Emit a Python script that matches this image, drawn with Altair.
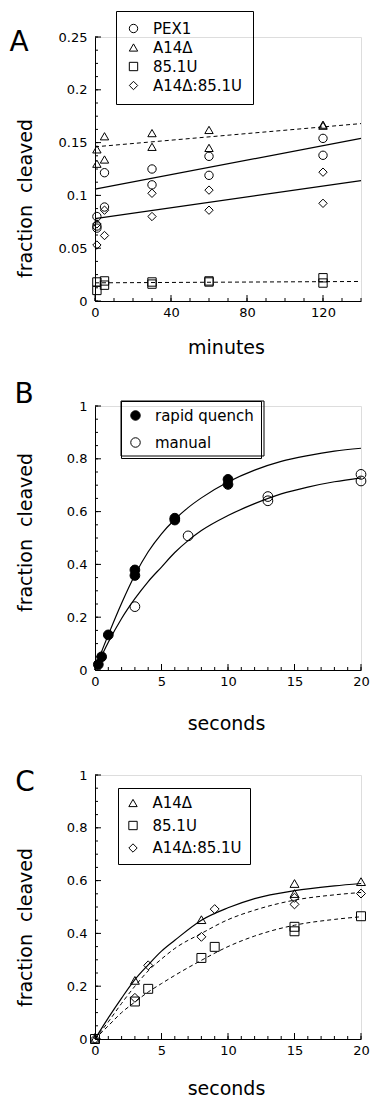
import altair as alt
import pandas as pd

FONT = "DejaVu Sans"
W, H = 266, 264

# ---------------- Panel A data ----------------
a_series = ["PEX1", "A14Δ", "85.1U", "A14Δ:85.1U"]
a_pex1_x = [1, 1, 1, 5, 5, 30, 30, 60, 60, 120, 120]
a_pex1_y = [0.080, 0.071, 0.069, 0.1215, 0.089, 0.125, 0.110, 0.137, 0.119, 0.154, 0.138]
a_a14_x = [1, 1, 5, 5, 30, 30, 60, 60, 120, 120]
a_a14_y = [0.1436, 0.130, 0.156, 0.134, 0.159, 0.146, 0.162, 0.145, 0.166, 0.167]
a_851_x = [1, 1, 5, 5, 30, 30, 60, 60, 120, 120]
a_851_y = [0.018, 0.010, 0.019, 0.015, 0.018, 0.016, 0.018, 0.019, 0.022, 0.017]
a_mix_x = [1, 1, 5, 5, 30, 30, 60, 60, 120, 120]
a_mix_y = [0.053, 0.073, 0.062, 0.086, 0.080, 0.102, 0.086, 0.105, 0.0925, 0.122]
a_fit_x = [0, 140]
a_fit_pex1 = [0.106, 0.154]
a_fit_a14 = [0.146, 0.168]
a_fit_851 = [0.0172, 0.0185]
a_fit_mix = [0.078, 0.114]
a_ymajor = [0, 0.05, 0.1, 0.15, 0.2, 0.25]
a_yminor = [i * 0.0125 for i in range(21)]
a_xmajor = [0, 40, 80, 120]
a_xminor = list(range(0, 141, 10))

# ---------------- Panel B data ----------------
b_series = ["rapid quench", "manual"]
b_rapid_t = [0.25, 0.5, 1, 3, 3, 6, 6, 10, 10]
b_rapid_y = [0.021, 0.05, 0.133, 0.379, 0.358, 0.575, 0.568, 0.722, 0.703]
b_manual_t = [3, 7, 13, 13, 20, 20]
b_manual_y = [0.24, 0.508, 0.657, 0.641, 0.741, 0.716]
b_rapid_curve_t = [0, 0.5, 1, 2, 3, 4, 5, 6, 7, 8, 10, 12, 14, 16, 18, 20]
b_rapid_curve_y = [0, 0.07, 0.133, 0.253, 0.36, 0.448, 0.516, 0.57, 0.615, 0.652,
                   0.712, 0.757, 0.79, 0.812, 0.829, 0.84]
b_manual_curve_t = [0, 1, 2, 3, 4, 5, 6, 7, 8, 10, 12, 14, 16, 18, 20]
b_manual_curve_y = [0, 0.105, 0.195, 0.27, 0.335, 0.39, 0.445, 0.49, 0.528, 0.585,
                    0.63, 0.667, 0.693, 0.713, 0.728]

# ---------------- Panel C data ----------------
c_series = ["A14Δ", "85.1U", "A14Δ:85.1U"]
c_a14_t = [0, 3, 8, 15, 15, 20]
c_a14_y = [0, 0.222, 0.452, 0.589, 0.551, 0.596]
c_851_t = [0, 3, 4, 8, 9, 15, 15, 20]
c_851_y = [0, 0.142, 0.19, 0.307, 0.349, 0.425, 0.408, 0.465]
c_mix_t = [0, 3, 4, 8, 9, 15, 15, 20]
c_mix_y = [0, 0.156, 0.279, 0.387, 0.492, 0.535, 0.51, 0.551]
c_curve_t = [0, 1, 2, 3, 4, 5, 6, 8, 10, 12, 15, 18, 20]
c_curve_a14 = [0, 0.08, 0.155, 0.225, 0.281, 0.333, 0.374, 0.45, 0.497, 0.532, 0.562, 0.58, 0.589]
c_curve_mix = [0, 0.065, 0.135, 0.2, 0.258, 0.303, 0.343, 0.40, 0.452, 0.488, 0.526, 0.546, 0.555]
c_curve_851 = [0, 0.05, 0.1, 0.14, 0.178, 0.21, 0.241, 0.298, 0.35, 0.39, 0.431, 0.453, 0.463]

bc_ymajor = [0, 0.2, 0.4, 0.6, 0.8, 1]
bc_yminor = [i * 0.05 for i in range(21)]
bc_xmajor = [0, 5, 10, 15, 20]
bc_xminor = list(range(0, 21))


def long_df(pairs):
    rows = []
    for name, xs, ys in pairs:
        for xv, yv in zip(xs, ys):
            rows.append({"series": name, "x": xv, "y": yv})
    return pd.DataFrame(rows)


def make_axes(xvals, xtitle, xtitle_y, yvals, ytitle_y):
    xa = alt.Axis(values=xvals, labelExpr="'' + datum.value", ticks=False, grid=False,
                  domainColor="black", domainWidth=1,
                  labelFont=FONT, labelFontSize=13, labelColor="black", labelPadding=5,
                  labelFlush=False,
                  title=xtitle, titleFont=FONT, titleFontSize=19, titleFontWeight="normal",
                  titleColor="black", titleX=W / 2 - 2, titleY=xtitle_y,
                  titleAlign="center", titleBaseline="alphabetic")
    ya = alt.Axis(values=yvals, labelExpr="'' + datum.value", ticks=False, grid=False,
                  domainColor="black", domainWidth=1,
                  labelFont=FONT, labelFontSize=13, labelColor="black", labelPadding=8,
                  labelFlush=False,
                  title="fraction\u00a0\u00a0cleaved", titleFont=FONT, titleFontSize=19,
                  titleFontWeight="normal", titleColor="black",
                  titleX=-70, titleY=ytitle_y, titleAngle=270,
                  titleAlign="center", titleBaseline="middle")
    return xa, ya


def tick_layers(xs, ys, xa, ya, xmaj, xmin, ymaj, ymin):
    layers = []
    for vals, ln in ((ymin, 3), (ymaj, 6)):
        layers.append(
            alt.Chart(pd.DataFrame({"y": vals})).mark_rule(color="black", strokeWidth=1).encode(
                y=alt.Y("y:Q", scale=ys, axis=ya), x=alt.value(0), x2=alt.value(ln)))
    for vals, ln in ((xmin, 3), (xmaj, 6)):
        layers.append(
            alt.Chart(pd.DataFrame({"x": vals})).mark_rule(color="black", strokeWidth=1).encode(
                x=alt.X("x:Q", scale=xs, axis=xa), y=alt.value(H), y2=alt.value(H - ln)))
    return layers


def letter(t, dx, dy):
    return alt.Chart(pd.DataFrame({"t": [t]})).mark_text(
        font=FONT, fontSize=28, align="center", baseline="alphabetic", color="black"
    ).encode(text="t:N", x=alt.value(dx), y=alt.value(dy))


def legend(x, y, pad, rowpad):
    return alt.Legend(title=None, orient="none", legendX=x, legendY=y,
                      strokeColor="black", padding=pad, rowPadding=rowpad,
                      labelFont=FONT, labelFontSize=15, labelColor="black", labelOffset=12,
                      symbolStrokeColor="black", symbolStrokeWidth=1, symbolSize=70)


# ---------------- Panel A ----------------
xsA = alt.Scale(domain=[0, 140], nice=False, zero=False)
ysA = alt.Scale(domain=[0, 0.25], nice=False, zero=False)
xaA, yaA = make_axes(a_xmajor, "minutes", 52, a_ymajor, 161)

ptsA = long_df([(a_series[0], a_pex1_x, a_pex1_y), (a_series[1], a_a14_x, a_a14_y),
                (a_series[2], a_851_x, a_851_y), (a_series[3], a_mix_x, a_mix_y)])
fitA = long_df([(a_series[0], a_fit_x, a_fit_pex1), (a_series[1], a_fit_x, a_fit_a14),
                (a_series[2], a_fit_x, a_fit_851), (a_series[3], a_fit_x, a_fit_mix)])

legA = legend(21, -26, 10, 3)
legA.symbolFillColor = "transparent"

solidA = alt.Chart(fitA).transform_filter(
    alt.FieldOneOfPredicate(field="series", oneOf=[a_series[0], a_series[3]])
).mark_line(color="black", strokeWidth=1.2).encode(
    x=alt.X("x:Q", scale=xsA, axis=xaA), y=alt.Y("y:Q", scale=ysA, axis=yaA), detail="series:N")
dashA = alt.Chart(fitA).transform_filter(
    alt.FieldOneOfPredicate(field="series", oneOf=[a_series[1], a_series[2]])
).mark_line(color="black", strokeWidth=1, strokeDash=[4, 3]).encode(
    x=alt.X("x:Q", scale=xsA, axis=xaA), y=alt.Y("y:Q", scale=ysA, axis=yaA), detail="series:N")
pointsA = alt.Chart(ptsA).mark_point(filled=False, color="black", strokeWidth=1, size=70, opacity=1).encode(
    x=alt.X("x:Q", scale=xsA, axis=xaA), y=alt.Y("y:Q", scale=ysA, axis=yaA),
    shape=alt.Shape("series:N", sort=a_series,
                    scale=alt.Scale(domain=a_series, range=["circle", "triangle-up", "square", "diamond"]),
                    legend=legA))

panelA = alt.layer(
    *tick_layers(xsA, ysA, xaA, yaA, a_xmajor, a_xminor, a_ymajor, a_yminor),
    solidA, dashA, pointsA, letter("A", -76, 14)
).properties(width=W, height=H)

# ---------------- Panel B ----------------
xsB = alt.Scale(domain=[0, 20], nice=False, zero=False)
ysB = alt.Scale(domain=[0, 1], nice=False, zero=False)
xaB, yaB = make_axes(bc_xmajor, "seconds", 59, bc_ymajor, 126)

ptsB = long_df([(b_series[0], b_rapid_t, b_rapid_y), (b_series[1], b_manual_t, b_manual_y)])
curB = long_df([(b_series[0], b_rapid_curve_t, b_rapid_curve_y),
                (b_series[1], b_manual_curve_t, b_manual_curve_y)])

legB = legend(26, -5, 7, 11)
legB.symbolSize = 90

curvesB = alt.Chart(curB).mark_line(color="black", strokeWidth=1.2, interpolate="monotone").encode(
    x=alt.X("x:Q", scale=xsB, axis=xaB), y=alt.Y("y:Q", scale=ysB, axis=yaB), detail="series:N")
pointsB = alt.Chart(ptsB).mark_point(filled=True, strokeWidth=1,
                                     size=95, opacity=1, fillOpacity=1, strokeOpacity=1).encode(
    x=alt.X("x:Q", scale=xsB, axis=xaB), y=alt.Y("y:Q", scale=ysB, axis=yaB),
    shape=alt.Shape("series:N", sort=b_series,
                    scale=alt.Scale(domain=b_series, range=["circle", "circle"]), legend=legB),
    fill=alt.Fill("series:N", sort=b_series,
                  scale=alt.Scale(domain=b_series, range=["black", "transparent"]), legend=legB),
    stroke=alt.Stroke("series:N", sort=b_series,
                      scale=alt.Scale(domain=b_series, range=["black", "black"]), legend=legB))
# frame around the panel B legend
legBoxB = alt.Chart(pd.DataFrame({"k": [0]})).mark_rect(
    fillOpacity=0, stroke="black", strokeWidth=1
).encode(x=alt.value(26), x2=alt.value(169), y=alt.value(-5), y2=alt.value(50))

panelB = alt.layer(
    *tick_layers(xsB, ysB, xaB, yaB, bc_xmajor, bc_xminor, bc_ymajor, bc_yminor),
    curvesB, pointsB, legBoxB, letter("B", -71, -3)
).properties(width=W, height=H)

# ---------------- Panel C ----------------
xsC = alt.Scale(domain=[0, 20], nice=False, zero=False)
ysC = alt.Scale(domain=[0, 1], nice=False, zero=False)
xaC, yaC = make_axes(bc_xmajor, "seconds", 55, bc_ymajor, 152)

ptsC = long_df([(c_series[0], c_a14_t, c_a14_y), (c_series[1], c_851_t, c_851_y),
                (c_series[2], c_mix_t, c_mix_y)])
curC = long_df([(c_series[0], c_curve_t, c_curve_a14), (c_series[1], c_curve_t, c_curve_851),
                (c_series[2], c_curve_t, c_curve_mix)])

legC = legend(23, 13, 7.5, 6.5)
legC.symbolFillColor = "transparent"

solidC = alt.Chart(curC).transform_filter(
    alt.FieldEqualPredicate(field="series", equal=c_series[0])
).mark_line(color="black", strokeWidth=1.2, interpolate="monotone").encode(
    x=alt.X("x:Q", scale=xsC, axis=xaC), y=alt.Y("y:Q", scale=ysC, axis=yaC), detail="series:N")
dashC = alt.Chart(curC).transform_filter(
    alt.FieldOneOfPredicate(field="series", oneOf=[c_series[1], c_series[2]])
).mark_line(color="black", strokeWidth=1, strokeDash=[4, 3], interpolate="monotone").encode(
    x=alt.X("x:Q", scale=xsC, axis=xaC), y=alt.Y("y:Q", scale=ysC, axis=yaC), detail="series:N")
pointsC = alt.Chart(ptsC).mark_point(filled=False, color="black", strokeWidth=1, size=80, opacity=1).encode(
    x=alt.X("x:Q", scale=xsC, axis=xaC), y=alt.Y("y:Q", scale=ysC, axis=yaC),
    shape=alt.Shape("series:N", sort=c_series,
                    scale=alt.Scale(domain=c_series, range=["triangle-up", "square", "diamond"]),
                    legend=legC))

panelC = alt.layer(
    *tick_layers(xsC, ysC, xaC, yaC, bc_xmajor, bc_xminor, bc_ymajor, bc_yminor),
    solidC, dashC, pointsC, letter("C", -70, 16)
).properties(width=W, height=H)

chart = alt.vconcat(panelA, panelB, panelC, spacing=105, bounds="flush").resolve_scale(
    x="independent", y="independent", shape="independent", fill="independent", stroke="independent"
).resolve_legend(shape="independent", fill="independent", stroke="independent").properties(
    padding={"left": 8, "top": 10, "right": 0, "bottom": 0}
).configure_view(stroke=None).configure_legend(
    strokeColor="black", strokeWidth=1
).configure(background="white")

chart.save("out.html", embed_options={"renderer": "svg", "actions": False})
